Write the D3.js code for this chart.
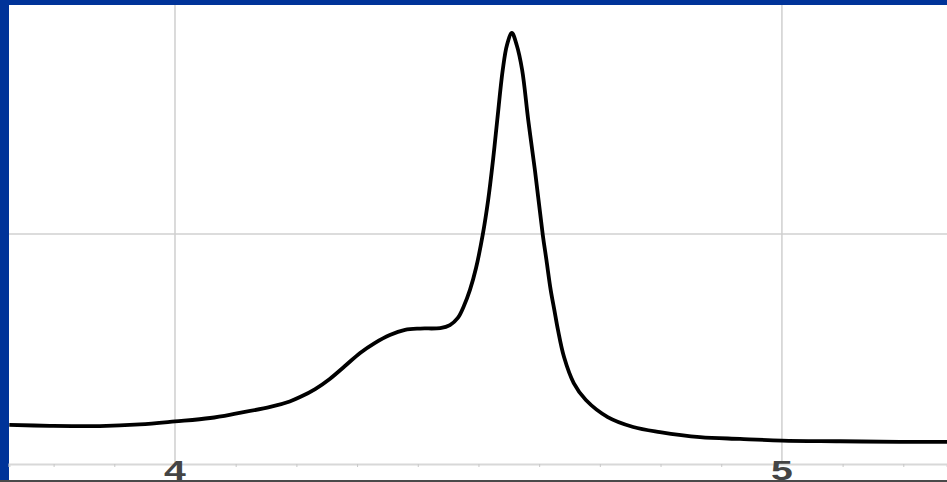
<!DOCTYPE html>
<html>
<head>
<meta charset="utf-8">
<script src="https://cdn.jsdelivr.net/npm/d3@7"></script>
<style>
  html, body { margin: 0; padding: 0; background: #fff; }
  svg { display: block; }
</style>
</head>
<body>
<svg id="chart" width="947" height="482"></svg>
<script>
// ---- data ----
const shift = [3.727, 3.794, 3.876, 3.942, 4.000, 4.058, 4.102, 4.157, 4.189, 4.206, 4.231, 4.255,
  4.280, 4.305, 4.329, 4.354, 4.379, 4.404, 4.437, 4.453, 4.466, 4.476, 4.486, 4.496, 4.507, 4.516,
  4.524, 4.531, 4.540, 4.547, 4.555, 4.563, 4.572, 4.582, 4.593, 4.606, 4.612, 4.619, 4.625, 4.631,
  4.641, 4.657, 4.677, 4.713, 4.755, 4.799, 4.865, 4.931, 5.000, 5.096, 5.194, 5.272];
const intensity = [0.170, 0.166, 0.165, 0.172, 0.185, 0.200, 0.220, 0.248, 0.272, 0.291, 0.326, 0.370,
  0.426, 0.483, 0.526, 0.561, 0.583, 0.589, 0.591, 0.604, 0.635, 0.687, 0.757, 0.852, 0.996, 1.148,
  1.322, 1.496, 1.713, 1.822, 1.874, 1.822, 1.713, 1.496, 1.278, 0.996, 0.887, 0.757, 0.670, 0.583,
  0.465, 0.352, 0.278, 0.204, 0.161, 0.139, 0.117, 0.109, 0.102, 0.099, 0.096, 0.096];
const majorTicks = [4, 5];
const tickLabels = ["4", "5"];
const minorTicks = [3.8, 3.9, 4.1, 4.2, 4.3, 4.4, 4.5, 4.6, 4.7, 4.8, 4.9, 5.1, 5.2];
const yGrid = [1];

// ---- drawing ----
const W = 947, H = 482;
const svg = d3.select("#chart");
const plot = { left: 9, top: 5, right: 947, axisY: 464, bottom: 480 };

const x = d3.scaleLinear().domain([3.7265, 5.272]).range([plot.left, plot.right]);
const y = d3.scaleLinear().domain([0, 2]).range([plot.axisY, 4]);

// frame
svg.append("rect").attr("width", W).attr("height", H).attr("fill", "#003399");
svg.append("rect").attr("x", plot.left).attr("y", plot.top)
  .attr("width", plot.right - plot.left).attr("height", plot.bottom - plot.top).attr("fill", "#ffffff");

const g = svg.append("g");

// horizontal gridlines
g.selectAll(".hgrid").data(yGrid).join("line")
  .attr("x1", plot.left).attr("x2", plot.right)
  .attr("y1", d => y(d)).attr("y2", d => y(d))
  .attr("stroke", "#dcdcdc").attr("stroke-width", 2);

// vertical gridlines
g.selectAll(".vgrid").data(majorTicks).join("line")
  .attr("x1", d => x(d)).attr("x2", d => x(d))
  .attr("y1", plot.top).attr("y2", plot.axisY)
  .attr("stroke", "#cfcfcf").attr("stroke-width", 1.5);

// bottom axis
const axis = d3.axisBottom(x).tickValues(minorTicks).tickSize(3).tickFormat("");
const ag = g.append("g").attr("transform", `translate(0,${plot.axisY})`).call(axis);
ag.select(".domain").attr("stroke", "#d8d8d8").attr("stroke-width", 2);
ag.selectAll(".tick line").attr("stroke", "#c8c8c8").attr("stroke-width", 1);

// tick labels
g.selectAll(".tlab").data(majorTicks).join("text")
  .attr("transform", d => `translate(${x(d)},480) scale(1.4,1)`)
  .attr("text-anchor", "middle")
  .attr("font-family", "Liberation Sans, Arial, sans-serif")
  .attr("font-weight", "bold")
  .attr("font-size", 28)
  .attr("fill", "#444444")
  .text((d, i) => tickLabels[i]);

// curve
const pts = shift.map((s, i) => [s, intensity[i]]);
const line = d3.line().x(d => x(d[0])).y(d => y(d[1])).curve(d3.curveCatmullRom.alpha(0.5));
g.append("path").datum(pts)
  .attr("d", line)
  .attr("fill", "none").attr("stroke", "#000").attr("stroke-width", 3.8)
  .attr("stroke-linejoin", "round");

// bottom dark strip
svg.append("rect").attr("x", 0).attr("y", plot.bottom).attr("width", W).attr("height", H - plot.bottom)
  .attr("fill", "#4a4a4a");
</script>
</body>
</html>
